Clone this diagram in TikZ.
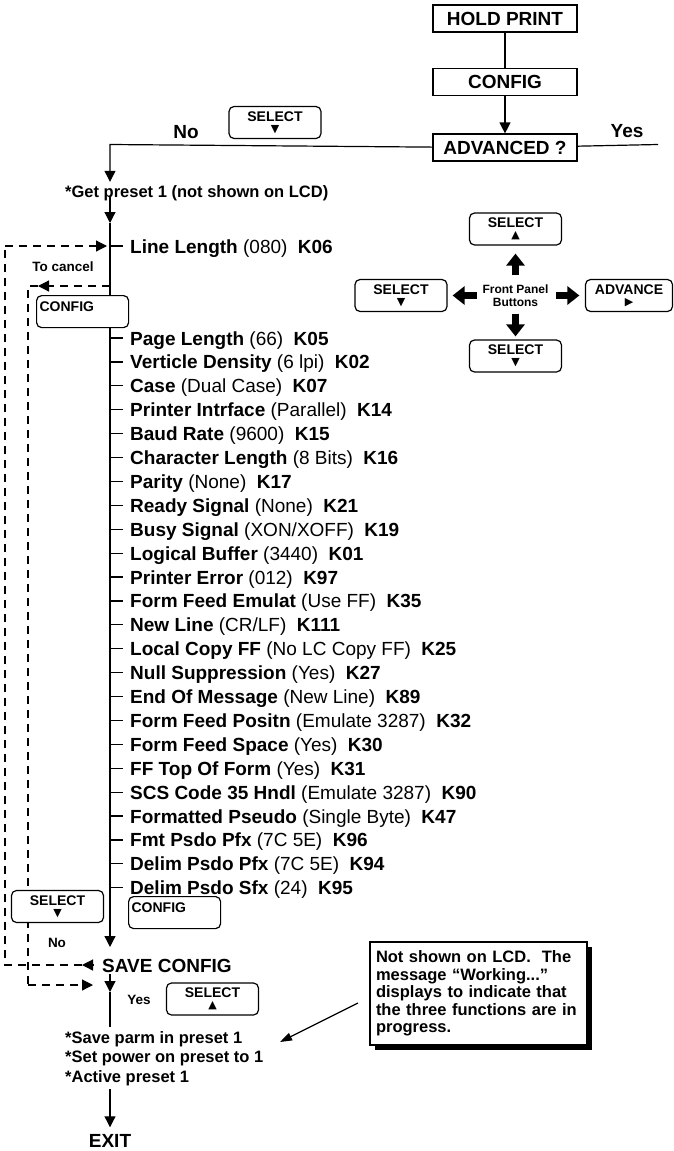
\documentclass[tikz,border=0pt]{standalone}
\usepackage{fontspec}
\setmainfont{Liberation Sans}
\newfontfamily\symfont{DejaVu Sans}
\usetikzlibrary{arrows.meta,positioning,shadows}

\newcommand{\setting}[3]{\textbf{#1} #2\hspace{0.55em}\textbf{#3}}
\newcommand{\tridown}{{\symfont\fontsize{11}{11}\selectfont ▼}}
\newcommand{\triup}{{\symfont\fontsize{11}{11}\selectfont ▲}}
\newcommand{\triright}{{\symfont\fontsize{11}{11}\selectfont ▶}}

\begin{document}
\begin{tikzpicture}[
  x=1pt, y=1pt,
  node distance=9.5pt,
  stepbox/.style={draw, line width=1.6pt, minimum width=144pt, minimum height=27pt, inner sep=0pt, font=\bfseries\fontsize{19}{22}\selectfont},
  btn/.style={draw, rounded corners=5pt, line width=1.2pt, fill=white, minimum width=92pt, minimum height=32pt, inner sep=0pt, align=center, font=\bfseries\fontsize{14}{11}\selectfont},
  cfg/.style={draw, rounded corners=5pt, line width=1.2pt, fill=white, text width=86pt, inner xsep=3pt, inner ysep=3pt, text height=13pt, text depth=13pt, align=left, font=\bfseries\fontsize{14}{15}\selectfont},
  parm/.style={inner sep=0pt, text height=14pt, text depth=0pt, font=\fontsize{19}{23}\selectfont},
  lbl/.style={inner sep=0pt, font=\bfseries\fontsize{19}{22}\selectfont},
  small/.style={inner sep=0pt, font=\bfseries\fontsize{13.5}{15}\selectfont},
  wire/.style={line width=1.2pt},
  arr/.style={line width=1.2pt, -{Triangle[length=11pt,width=11pt]}},
  thinarr/.style={line width=1.2pt, -{Triangle[length=12pt,width=8pt]}},
  dashline/.style={line width=1.3pt, dash pattern=on 8pt off 6pt},
  bigarr/.style={line width=6.5pt, -{Triangle[length=12pt,width=18pt]}}
]
\useasboundingbox (0,0) rectangle (674,-1151);

% entry into the menu
\node[stepbox] (hold) at (505,-18.5) {HOLD PRINT};
\node[stepbox, below=35pt of hold] (cfgtop) {CONFIG};
\node[stepbox, below=37pt of cfgtop] (adv) {ADVANCED ?};
\node[lbl] (yes) at (627,-131) {Yes};
\node[lbl] (no) at (186,-132) {No};
\node[lbl, anchor=west, font=\bfseries\fontsize{16.5}{18}\selectfont, text height=12pt, text depth=0pt] (getp) at (65,-191) {*Get preset 1 (not shown on LCD)};
\coordinate (yesend) at (658,-144.5);
\coordinate (corner) at (110,-144.5);
\coordinate (g2) at (110,-223);
\coordinate (s1) at (110,-947);
\coordinate (s2) at (110,-992);
\coordinate (s3) at (110,-1027);

% settings
\node[parm, anchor=west] (p1) at (130,-246) {\setting{Line Length}{(080)}{K06}};
\node[parm, anchor=west] (p2) at (130,-338) {\setting{Page Length}{(66)}{K05}};
\node[parm, below=of p2.south west, anchor=north west] (p3) {\setting{Verticle Density}{(6 lpi)}{K02}};
\node[parm, below=of p3.south west, anchor=north west] (p4) {\setting{Case}{(Dual Case)}{K07}};
\node[parm, below=of p4.south west, anchor=north west] (p5) {\setting{Printer Intrface}{(Parallel)}{K14}};
\node[parm, below=of p5.south west, anchor=north west] (p6) {\setting{Baud Rate}{(9600)}{K15}};
\node[parm, below=of p6.south west, anchor=north west] (p7) {\setting{Character Length}{(8 Bits)}{K16}};
\node[parm, below=of p7.south west, anchor=north west] (p8) {\setting{Parity}{(None)}{K17}};
\node[parm, below=of p8.south west, anchor=north west] (p9) {\setting{Ready Signal}{(None)}{K21}};
\node[parm, below=of p9.south west, anchor=north west] (p10) {\setting{Busy Signal}{(XON/XOFF)}{K19}};
\node[parm, below=of p10.south west, anchor=north west] (p11) {\setting{Logical Buffer}{(3440)}{K01}};
\node[parm, below=of p11.south west, anchor=north west] (p12) {\setting{Printer Error}{(012)}{K97}};
\node[parm, below=of p12.south west, anchor=north west] (p13) {\setting{Form Feed Emulat}{(Use FF)}{K35}};
\node[parm, below=of p13.south west, anchor=north west] (p14) {\setting{New Line}{(CR/LF)}{K111}};
\node[parm, below=of p14.south west, anchor=north west] (p15) {\setting{Local Copy FF}{(No LC Copy FF)}{K25}};
\node[parm, below=of p15.south west, anchor=north west] (p16) {\setting{Null Suppression}{(Yes)}{K27}};
\node[parm, below=of p16.south west, anchor=north west] (p17) {\setting{End Of Message}{(New Line)}{K89}};
\node[parm, below=of p17.south west, anchor=north west] (p18) {\setting{Form Feed Positn}{(Emulate 3287)}{K32}};
\node[parm, below=of p18.south west, anchor=north west] (p19) {\setting{Form Feed Space}{(Yes)}{K30}};
\node[parm, below=of p19.south west, anchor=north west] (p20) {\setting{FF Top Of Form}{(Yes)}{K31}};
\node[parm, below=of p20.south west, anchor=north west] (p21) {\setting{SCS Code 35 Hndl}{(Emulate 3287)}{K90}};
\node[parm, below=of p21.south west, anchor=north west] (p22) {\setting{Formatted Pseudo}{(Single Byte)}{K47}};
\node[parm, below=of p22.south west, anchor=north west] (p23) {\setting{Fmt Psdo Pfx}{(7C 5E)}{K96}};
\node[parm, below=of p23.south west, anchor=north west] (p24) {\setting{Delim Psdo Pfx}{(7C 5E)}{K94}};
\node[parm, below=of p24.south west, anchor=north west] (p25) {\setting{Delim Psdo Sfx}{(24)}{K95}};

% saving and exit
\node[lbl, anchor=west, text height=14pt, text depth=0pt] (save) at (102,-965) {SAVE CONFIG};
\node[anchor=north west, inner sep=0pt, align=left, font=\bfseries\fontsize{16.5}{19.5}\selectfont] (savep) at (65,-1031) {*Save parm in preset 1\\*Set power on preset to 1\\*Active preset 1};
\node[lbl] (exit) at (110,-1141) {EXIT};
\node[small] (nosave) at (57,-943) {No};
\node[small] (yessave) at (139,-1000) {Yes};
\node[small] (cancel) at (63,-267) {To cancel};

\draw[wire] (hold) -- (cfgtop);
\draw[arr] (cfgtop) -- (adv);
\draw[wire] (adv) -- (yesend);
\draw[arr, shorten >=3pt] (adv) -- (corner) -- (corner |- getp.north);
\draw[arr] (getp.south -| corner) -- (g2);
\draw[arr] (g2) -- (s1);
\foreach \n in {1,...,25}
  \draw[wire] (p\n.west -| corner) -- ++(13,0);
\draw[arr, shorten <=2pt] (save.south -| corner) -- (s2);
\draw[wire] (s2) -- (s3);
\draw[arr, shorten <=3pt, shorten >=7pt] (savep.south -| corner) -- (exit);

% loops back
\coordinate (o1) at (93,-965);
\coordinate (o1b) at (82,-965);
\coordinate (o2) at (5,-965);
\coordinate (o3) at (5,-246);
\coordinate (c1) at (38,-286);
\coordinate (c2) at (28,-286);
\coordinate (c3) at (28,-985);
\coordinate (c4) at (93,-985);
\draw[arr] (o1) -- (o1b);
\draw[dashline] (o1b) -- (o2) -- (o3);
\draw[dashline, arr, shorten >=3pt] (o3) -- (p1.west -| corner);
\draw[dashline, arr] (corner |- c2) -- (c1);
\draw[dashline] (c1) -- (c2) -- (c3);
\draw[dashline, arr] (c3) -- (c4);

% buttons
\node[btn] (selno) at (275,-122.5) {SELECT\\\tridown};
\node[cfg, anchor=north west] (cfga) at (36,-295) {CONFIG};
\node[cfg, anchor=north west] (cfgb) at (128,-896) {CONFIG};
\node[btn] (selsave) at (57.5,-906.5) {SELECT\\\tridown};
\node[btn] (selyes) at (212.5,-999) {SELECT\\\triup};

% front panel
\node[font=\bfseries\fontsize{12}{13}\selectfont, align=center, inner sep=0pt] (fp) at (515.5,-295.5) {Front Panel\\Buttons};
\node[btn] (fpup) at (515.5,-229) {SELECT\\\triup};
\node[btn] (fpleft) at (401,-295.5) {SELECT\\\tridown};
\node[btn, minimum width=87pt] (fpright) at (629,-295.5) {ADVANCE\\\triright};
\node[btn] (fpdown) at (515.5,-356) {SELECT\\\tridown};
\draw[bigarr, shorten <=9pt, shorten >=8pt] (fp) -- (fpup);
\draw[bigarr, shorten <=5.5pt, shorten >=5pt] (fp) -- (fpleft);
\draw[bigarr, shorten <=7.5pt, shorten >=5.5pt] (fp) -- (fpright);
\draw[bigarr, shorten <=7pt, shorten >=3pt] (fp) -- (fpdown);

% note
\node[draw, line width=1.2pt, fill=white, text width=205pt, inner xsep=6pt, minimum height=103pt, align=left,
  font=\bfseries\fontsize{16.5}{17.5}\selectfont,
  drop shadow={shadow xshift=5pt, shadow yshift=-5pt, fill=black, opacity=1}] (note) at (478.5,-993.5)
  {Not shown on LCD.\ \ The\\message “Working...”\\displays to indicate that\\the three functions are in\\progress.};
\coordinate (nt) at (358,-1003);
\coordinate (nh) at (280,-1042);
\draw[thinarr] (nt) -- (nh);
\end{tikzpicture}
\end{document}
